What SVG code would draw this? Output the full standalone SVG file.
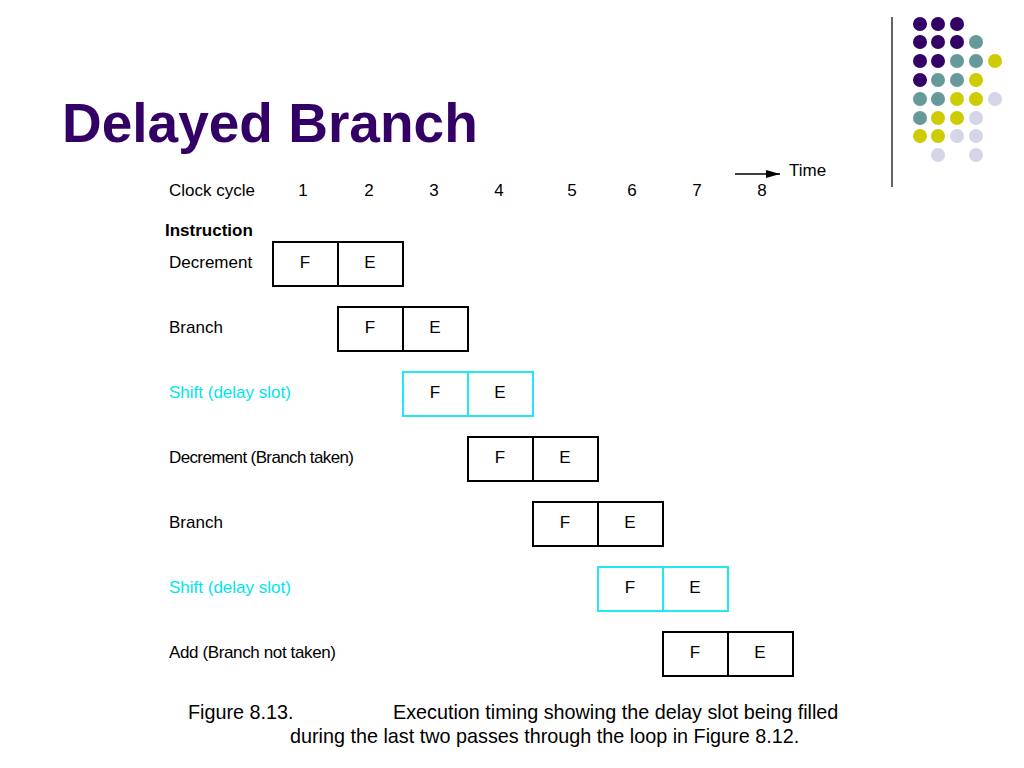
<svg xmlns="http://www.w3.org/2000/svg" width="1024" height="768" viewBox="0 0 1024 768">
<defs>
<style>
text{font-family:"Liberation Sans",Arial,sans-serif;}
.t{font-size:17px;fill:#000;}
.c{fill:#00E5EE;}
.ctr{text-anchor:middle;}
.cell{fill:#fff;stroke:#000;stroke-width:2;}
.cc{fill:#fff;stroke:#22E8F0;stroke-width:2;}
.p{fill:#330066;}.g{fill:#669999;}.y{fill:#CCCC00;}.l{fill:#D5D5E8;}
</style>
<marker id="ah" viewBox="0 0 14 8" refX="14" refY="4" markerWidth="14" markerHeight="8" markerUnits="userSpaceOnUse" orient="auto"><path d="M0,0L14,4L0,8z" fill="#000"/></marker>
</defs>
<rect width="1024" height="768" fill="#fff"/>
<g id="decor">
<line x1="892" y1="17" x2="892" y2="187" stroke="#333" stroke-width="1.5"/>
<circle class="p" cx="920" cy="24" r="7"/><circle class="p" cx="938" cy="24" r="7"/><circle class="p" cx="957" cy="24" r="7"/>
<circle class="p" cx="920" cy="42" r="7"/><circle class="p" cx="938" cy="42" r="7"/><circle class="p" cx="957" cy="42" r="7"/><circle class="g" cx="976" cy="42" r="7"/>
<circle class="p" cx="920" cy="61" r="7"/><circle class="p" cx="938" cy="61" r="7"/><circle class="g" cx="957" cy="61" r="7"/><circle class="g" cx="976" cy="61" r="7"/><circle class="y" cx="995" cy="61" r="7"/>
<circle class="p" cx="920" cy="80" r="7"/><circle class="g" cx="938" cy="80" r="7"/><circle class="g" cx="957" cy="80" r="7"/><circle class="y" cx="976" cy="80" r="7"/>
<circle class="g" cx="920" cy="99" r="7"/><circle class="g" cx="938" cy="99" r="7"/><circle class="y" cx="957" cy="99" r="7"/><circle class="y" cx="976" cy="99" r="7"/><circle class="l" cx="995" cy="99" r="7"/>
<circle class="g" cx="920" cy="118" r="7"/><circle class="y" cx="938" cy="118" r="7"/><circle class="y" cx="957" cy="118" r="7"/><circle class="l" cx="976" cy="118" r="7"/>
<circle class="y" cx="920" cy="136" r="7"/><circle class="y" cx="938" cy="136" r="7"/><circle class="l" cx="957" cy="136" r="7"/><circle class="l" cx="976" cy="136" r="7"/>
<circle class="l" cx="938" cy="155" r="7"/><circle class="l" cx="976" cy="155" r="7"/>
</g>
<text x="62" y="142" font-size="55" font-weight="bold" fill="#330066">Delayed Branch</text>
<g id="header">
<text class="t" x="169" y="196">Clock cycle</text>
<text class="t ctr" x="303" y="196">1</text>
<text class="t ctr" x="369" y="196">2</text>
<text class="t ctr" x="434" y="196">3</text>
<text class="t ctr" x="499" y="196">4</text>
<text class="t ctr" x="572" y="196">5</text>
<text class="t ctr" x="632" y="196">6</text>
<text class="t ctr" x="697" y="196">7</text>
<text class="t ctr" x="762" y="196">8</text>
<text class="t" x="789" y="176">Time</text>
<text class="t" x="165" y="236" font-weight="bold">Instruction</text>
</g>
<g id="connectors">
<line x1="735" y1="174" x2="780" y2="174" stroke="#000" stroke-width="1.5" marker-end="url(#ah)"/>
</g>
<g id="row1">
<text class="t" x="169" y="268">Decrement</text>
<rect class="cell" x="273" y="242" width="65" height="44"/><rect class="cell" x="338" y="242" width="65" height="44"/>
<text class="t ctr" x="305" y="268">F</text><text class="t ctr" x="370" y="268">E</text>
</g>
<g id="row2">
<text class="t" x="169" y="333">Branch</text>
<rect class="cell" x="338" y="307" width="65" height="44"/><rect class="cell" x="403" y="307" width="65" height="44"/>
<text class="t ctr" x="370" y="333">F</text><text class="t ctr" x="435" y="333">E</text>
</g>
<g id="row3">
<text class="t c" x="169" y="398">Shift (delay slot)</text>
<rect class="cc" x="403" y="372" width="65" height="44"/><rect class="cc" x="468" y="372" width="65" height="44"/>
<text class="t ctr" x="435" y="398">F</text><text class="t ctr" x="500" y="398">E</text>
</g>
<g id="row4">
<text class="t" x="169" y="463" textLength="185" lengthAdjust="spacing">Decrement (Branch taken)</text>
<rect class="cell" x="468" y="437" width="65" height="44"/><rect class="cell" x="533" y="437" width="65" height="44"/>
<text class="t ctr" x="500" y="463">F</text><text class="t ctr" x="565" y="463">E</text>
</g>
<g id="row5">
<text class="t" x="169" y="528">Branch</text>
<rect class="cell" x="533" y="502" width="65" height="44"/><rect class="cell" x="598" y="502" width="65" height="44"/>
<text class="t ctr" x="565" y="528">F</text><text class="t ctr" x="630" y="528">E</text>
</g>
<g id="row6">
<text class="t c" x="169" y="593">Shift (delay slot)</text>
<rect class="cc" x="598" y="567" width="65" height="44"/><rect class="cc" x="663" y="567" width="65" height="44"/>
<text class="t ctr" x="630" y="593">F</text><text class="t ctr" x="695" y="593">E</text>
</g>
<g id="row7">
<text class="t" x="169" y="658" textLength="167" lengthAdjust="spacing">Add (Branch not taken)</text>
<rect class="cell" x="663" y="632" width="65" height="44"/><rect class="cell" x="728" y="632" width="65" height="44"/>
<text class="t ctr" x="695" y="658">F</text><text class="t ctr" x="760" y="658">E</text>
</g>
<g id="caption">
<text x="188" y="719" font-size="19.8">Figure 8.13.</text>
<text x="393" y="719" font-size="19.8">Execution timing showing the delay slot being filled</text>
<text x="290" y="743" font-size="19.8">during the last two passes through the loop in Figure 8.12.</text>
</g>
</svg>
